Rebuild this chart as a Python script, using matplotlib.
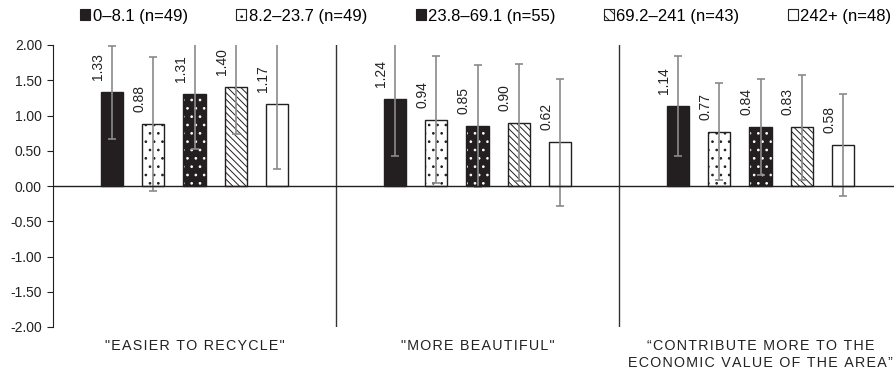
import matplotlib
matplotlib.use("Agg")
import matplotlib.pyplot as plt
import numpy as np
from matplotlib.patches import Patch
from matplotlib.ticker import FuncFormatter

plt.rcParams['font.family'] = ['Liberation Sans', 'DejaVu Sans']

categories = ['"EASIER TO RECYCLE"', '"MORE BEAUTIFUL"',
              '\u201cCONTRIBUTE MORE TO THE\nECONOMIC VALUE OF THE AREA\u201d']
series = ['0\u20138.1 (n=49)', '8.2\u201323.7 (n=49)', '23.8\u201369.1 (n=55)',
          '69.2\u2013241 (n=43)', '242+ (n=48)']
means = [
    [1.33, 1.24, 1.14],
    [0.88, 0.94, 0.77],
    [1.31, 0.85, 0.84],
    [1.40, 0.90, 0.83],
    [1.17, 0.62, 0.58],
]
errors = [
    [0.66, 0.82, 0.71],
    [0.95, 0.90, 0.69],
    [0.79, 0.86, 0.68],
    [0.66, 0.83, 0.74],
    [0.93, 0.90, 0.72],
]
yticks = [-2.0, -1.5, -1.0, -0.5, 0.0, 0.5, 1.0, 1.5, 2.0]

BLACK = '#231f20'
ERR = '#8a8a8a'
styles = [
    dict(face=BLACK, hatch=None, hcol=None),
    dict(face='white', hatch='..', hcol=BLACK),
    dict(face=BLACK, hatch='..', hcol='white'),
    dict(face='white', hatch='\\' * 5, hcol=BLACK),
    dict(face='white', hatch=None, hcol=None),
]

plt.rcParams['hatch.linewidth'] = 0.7


def spaced(s):
    return '\n'.join('\u200a'.join(line) for line in s.split('\n'))


fig = plt.figure(figsize=(8.95, 3.71), dpi=100)
ax = fig.add_axes([53/895, 44/371, 849/895, 282/371])

x = np.arange(len(categories))
step = 0.146
width = 0.078
for i, (m, e, st) in enumerate(zip(means, errors, styles)):
    xs = x + (i - 2) * step
    if st['hatch']:
        ax.bar(xs, m, width, color=st['face'], edgecolor=st['hcol'],
               hatch=st['hatch'], linewidth=0, zorder=2)
        ax.bar(xs, m, width, fill=False, edgecolor=BLACK, linewidth=1.0, zorder=3)
    else:
        ax.bar(xs, m, width, color=st['face'], edgecolor=BLACK, linewidth=1.0, zorder=2)
    ax.errorbar(xs, m, yerr=e, fmt='none', ecolor=ERR, elinewidth=1.2,
                capsize=3, capthick=1.2, zorder=4)
    for xi, mi in zip(xs, m):
        ax.annotate(f'{mi:.2f}', (xi, mi), xytext=(-14, 12), textcoords='offset pixels',
                    rotation=90, ha='center', va='bottom', fontsize=10, color='#222222')

ax.set_xlim(-0.5, 2.5)
ax.set_ylim(-2, 2)
ax.axhline(0, color=BLACK, lw=1.0, zorder=5)
for b in [0.5, 1.5]:
    ax.axvline(b, color='#333333', lw=1.0, zorder=1)

for s in ['top', 'right', 'bottom']:
    ax.spines[s].set_visible(False)
ax.spines['left'].set_color(BLACK)
ax.set_yticks(yticks)
ax.yaxis.set_major_formatter(FuncFormatter(lambda v, p: f'{v:.2f}'.replace('\u2212', '-')))
ax.tick_params(axis='y', length=4, direction='out', labelsize=10, colors='#222222', pad=4)
ax.set_xticks(x)
ax.set_xticklabels([spaced(c) for c in categories], fontsize=10.3, color='#222222')
ax.tick_params(axis='x', length=0, pad=9)

handles = []
for st in styles:
    if st['hatch'] and st['hcol'] == BLACK:
        handles.append(Patch(facecolor=st['face'], edgecolor=BLACK,
                             hatch='..' if st['hatch'] == '..' else '\\\\\\', linewidth=0.8))
    else:
        handles.append(Patch(facecolor=st['face'], edgecolor=BLACK, linewidth=0.8))
fig.legend(handles, series, loc='center', bbox_to_anchor=(486/895, 1 - 16/371), ncol=5,
           frameon=False, fontsize=12, handlelength=0.6, handleheight=0.6,
           handletextpad=0.15, columnspacing=2.9)

fig.savefig('out.png', dpi=100)
